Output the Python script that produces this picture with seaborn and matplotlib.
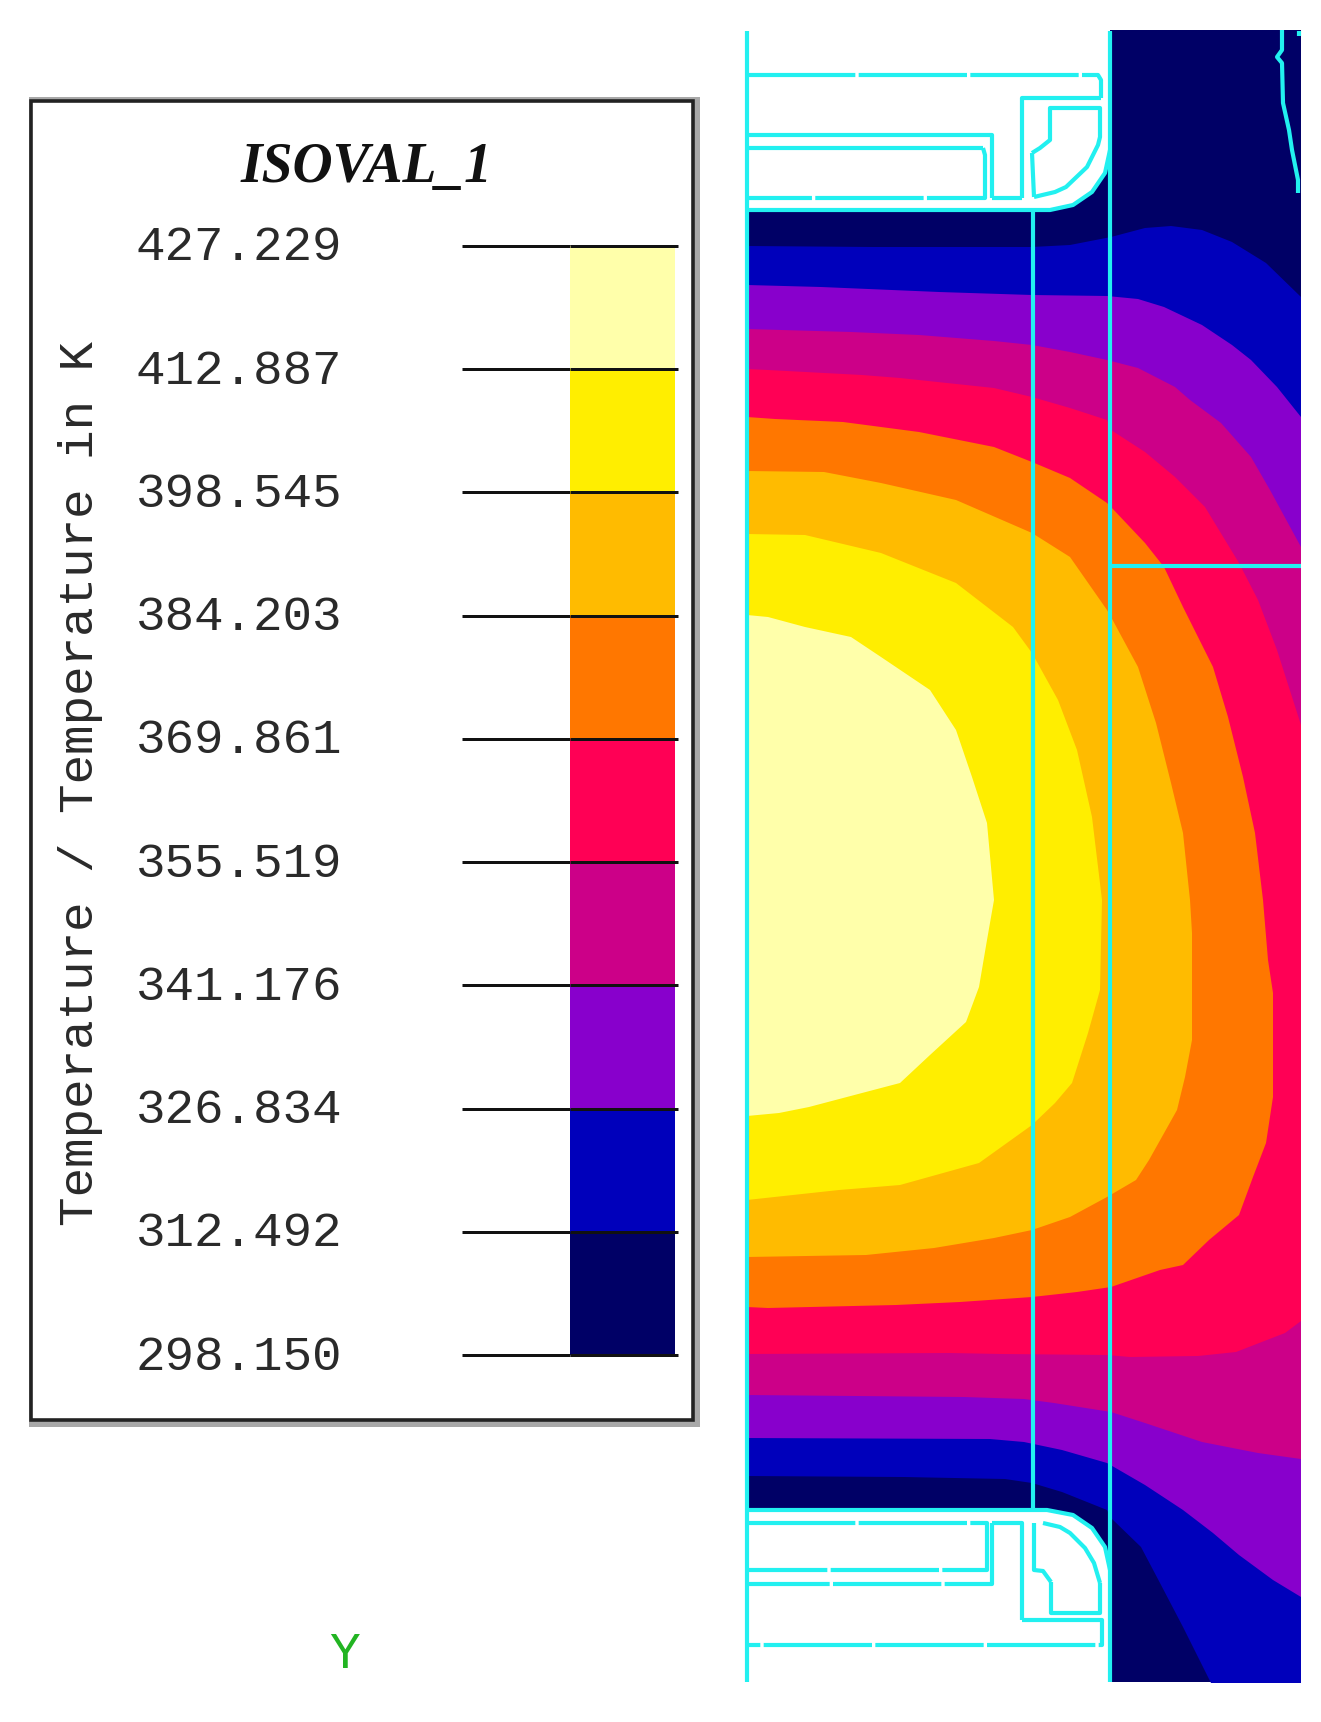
import numpy as np
import pandas as pd
import matplotlib
matplotlib.use("Agg")
import matplotlib.pyplot as plt
from matplotlib.colors import ListedColormap
from matplotlib.patches import Rectangle
from matplotlib.transforms import ScaledTranslation
import seaborn as sns

# ---- legend values ----
LEVELS = [427.229, 412.887, 398.545, 384.203, 369.861, 355.519, 341.176, 326.834, 312.492, 298.150]
BAND_COLORS = ["#FFFFAA", "#FFEE00", "#FFBB00", "#FF7700", "#FF0055",
               "#CC0088", "#8800CC", "#0000BB", "#000066"]
TITLE = "ISOVAL_1"
AXIS_LABEL = "Temperature / Temperature in K"

# ---- isotherms (reference pixels) ----
DOMAIN = [(747, 210), (1050, 210), (1073, 205), (1092, 192), (1105, 173), (1110, 155), (1110, 30),
          (1301, 30), (1301, 1682), (1110, 1682), (1110, 1570), (1105, 1547), (1092, 1528),
          (1073, 1515), (1047, 1510), (747, 1510)]
ISO_312 = [(747, 246), (873, 247), (1032, 247), (1070, 245), (1111, 237), (1145, 228), (1171, 226),
           (1202, 230), (1232, 242), (1266, 263), (1301, 297), (1301, 1683), (1211, 1683),
           (1183, 1627), (1160, 1583), (1141, 1547), (1111, 1518), (1107, 1510), (1062, 1492),
           (1032, 1483), (1005, 1479), (904, 1477), (747, 1476)]
ISO_326 = [(747, 285), (821, 287), (939, 292), (1032, 295), (1107, 296), (1138, 299), (1164, 307),
           (1202, 325), (1232, 345), (1251, 360), (1277, 387), (1301, 417), (1301, 1597), (1273, 1580),
           (1239, 1555), (1213, 1533), (1183, 1510), (1145, 1485), (1107, 1463), (1062, 1450),
           (1024, 1442), (990, 1439), (747, 1438)]
ISO_341 = [(747, 329), (851, 332), (919, 335), (994, 341), (1032, 345), (1070, 352), (1107, 360),
           (1138, 368), (1175, 387), (1190, 400), (1221, 423), (1251, 457), (1270, 490), (1301, 547),
           (1301, 1459), (1258, 1453), (1202, 1442), (1145, 1423), (1111, 1412), (1054, 1403),
           (1024, 1399), (964, 1397), (747, 1395)]
ISO_355 = [(747, 369), (768, 370), (862, 375), (900, 378), (994, 388), (1032, 397), (1070, 408),
           (1107, 420), (1111, 430), (1145, 452), (1175, 477), (1205, 507), (1239, 563), (1258, 600),
           (1277, 650), (1301, 725), (1301, 1321), (1285, 1333), (1236, 1352), (1198, 1356),
           (1130, 1357), (1107, 1355), (1002, 1354), (949, 1353), (747, 1354)]
ISO_369 = [(747, 417), (775, 419), (843, 422), (919, 432), (994, 447), (1032, 462), (1070, 478),
           (1107, 503), (1111, 507), (1145, 543), (1164, 567), (1183, 607), (1213, 667), (1228, 717),
           (1243, 777), (1255, 833), (1263, 900), (1268, 960), (1273, 993), (1273, 1097), (1266, 1143),
           (1253, 1177), (1239, 1215), (1209, 1240), (1183, 1265), (1160, 1270), (1111, 1287),
           (1077, 1292), (1032, 1297), (960, 1302), (896, 1305), (768, 1308), (747, 1307)]
ISO_384 = [(747, 471), (824, 472), (881, 483), (956, 500), (1032, 533), (1070, 557), (1107, 610),
           (1111, 617), (1138, 667), (1156, 723), (1171, 783), (1183, 833), (1190, 900), (1192, 933),
           (1192, 1040), (1185, 1077), (1177, 1110), (1149, 1160), (1136, 1180), (1107, 1197),
           (1070, 1217), (1032, 1230), (994, 1238), (934, 1248), (866, 1255), (747, 1257)]
ISO_398 = [(747, 534), (805, 535), (881, 553), (956, 583), (1013, 627), (1032, 653), (1058, 700),
           (1077, 750), (1092, 817), (1102, 900), (1100, 990), (1088, 1033), (1072, 1083), (1055, 1103),
           (1032, 1125), (979, 1163), (900, 1185), (839, 1190), (802, 1194), (747, 1200)]
ISO_412 = [(747, 615), (768, 617), (805, 627), (851, 637), (881, 657), (930, 690), (956, 730),
           (972, 777), (987, 823), (994, 900), (987, 940), (979, 987), (966, 1022), (930, 1055),
           (900, 1083), (862, 1093), (809, 1107), (779, 1113), (747, 1116)]
ISOTHERMS = [DOMAIN, ISO_312, ISO_326, ISO_341, ISO_355, ISO_369, ISO_384, ISO_398, ISO_412]

# ---- mesh outline, cyan ----
MESH_SOLID = [
    [(747, 31), (747, 1682)],
    [(1110, 31), (1110, 1682)],
    [(1033, 210), (1033, 1510)],
    [(1110, 566), (1301, 566)],
    [(747, 210), (1050, 210), (1073, 205), (1092, 192), (1105, 173), (1110, 150)],
    [(747, 1510), (1047, 1510), (1073, 1515), (1092, 1528), (1105, 1547), (1110, 1570)],
    [(747, 135), (992, 135), (992, 198)],
    [(1022, 198), (1022, 98), (1101, 98)],
    [(1032, 153), (1040, 148), (1050, 140), (1050, 108), (1100, 108), (1100, 137), (1098, 145),
     (1087, 167), (1066, 187), (1055, 192), (1034, 197)],
    [(747, 148), (983, 148)],
    [(992, 1523), (1022, 1523), (1022, 1620)],
    [(1051, 1582), (1051, 1613), (1100, 1613), (1100, 1583)],
    [(1282, 30), (1282, 50), (1277, 57), (1282, 63), (1283, 103), (1289, 130), (1292, 150), (1298, 180), (1298, 193)],
    [(1299, 31), (1299, 36)],
]
MESH_DASHED = [
    [(747, 75), (1098, 75), (1101, 80), (1101, 98)],
    [(983, 148), (985, 155), (985, 198), (747, 198)],
    [(992, 198), (1022, 198)],
    [(1034, 197), (1032, 153)],
    [(747, 1523), (987, 1523), (987, 1570), (747, 1570)],
    [(992, 1523), (992, 1584), (747, 1584)],
    [(1022, 1620), (1102, 1620), (1102, 1645), (747, 1645)],
    [(1034, 1523), (1034, 1570), (1043, 1571), (1051, 1582)],
    [(1043, 1523), (1060, 1527), (1070, 1533), (1085, 1548), (1094, 1563), (1100, 1583)],
]

W, H = 1321, 1722
BAR_L, BAR_R, BAR_T, BAR_B = 570, 675, 246, 1355
PX = 72 / 100  # one pixel in points

sns.set_theme(style="white")
plt.rcParams["font.family"] = ["Liberation Mono", "DejaVu Sans"]

fig = plt.figure(figsize=(W / 100, H / 100), dpi=100, facecolor="white")
ax = fig.add_axes([0, 0, 1, 1])
ax.set_xlim(0, W)
ax.set_ylim(H, 0)
ax.axis("off")

# temperature bands, coldest first, each one painted over the last
for pts, col in zip(ISOTHERMS, BAND_COLORS[::-1]):
    xs, ys = zip(*pts)
    ax.fill(xs, ys, color=col, lw=0, zorder=2)

for seg in MESH_SOLID:
    xs, ys = zip(*seg)
    ax.plot(xs, ys, color="#22F0F0", lw=3.0, solid_capstyle="butt", zorder=3)
for seg in MESH_DASHED:
    xs, ys = zip(*seg)
    ax.plot(xs, ys, color="#22F0F0", lw=3.0, ls=(0, (26, 0.8)), dash_capstyle="butt", zorder=3)

# legend box with its grey shadow
ax.add_patch(Rectangle((29, 97), 671, 1330, fc="#A8A8A8", ec="none", zorder=1))
ax.add_patch(Rectangle((31, 101), 662, 1319, fc="white", ec="#222222", lw=2.6, zorder=1.5))

ax.text(366, 168, TITLE, family="Liberation Serif", style="italic", weight="bold",
        fontsize=40, color="#111111", ha="center", va="center")
ax.text(81, 784, AXIS_LABEL, fontsize=35.5, color="#2A2A2A", rotation=90, ha="center", va="center")
ax.text(345, 1655, "Y", fontsize=37, color="#22B422", ha="center", va="center")

# colour bar
bar_ax = fig.add_axes([BAR_L / W, 1 - BAR_B / H, (BAR_R - BAR_L) / W, (BAR_B - BAR_T) / H])
band_frame = pd.DataFrame({"band": np.arange(len(BAND_COLORS))})
sns.heatmap(band_frame, ax=bar_ax, cmap=ListedColormap(BAND_COLORS), cbar=False,
            xticklabels=False, yticklabels=False)
bar_ax.set_ylabel("")
bar_ax.set_yticks(np.arange(len(LEVELS)))
bar_ax.set_yticklabels([f"{v:.3f}" for v in LEVELS], fontsize=35.5, color="#2A2A2A")
bar_ax.tick_params(axis="y", left=True, length=(BAR_L - 462) * PX, width=3 * PX,
                   color="#111111", pad=(462 - 342) * PX, labelrotation=0)
bar_ax.hlines(np.arange(len(LEVELS)), 0, 1.03, color="#111111", lw=3 * PX, clip_on=False)
# labels sit a little above their lines
lift = ScaledTranslation(0, 3 / 100, fig.dpi_scale_trans)
for lab in bar_ax.get_yticklabels():
    lab.set_transform(lab.get_transform() + lift)

fig.savefig("out.png", dpi=100)
